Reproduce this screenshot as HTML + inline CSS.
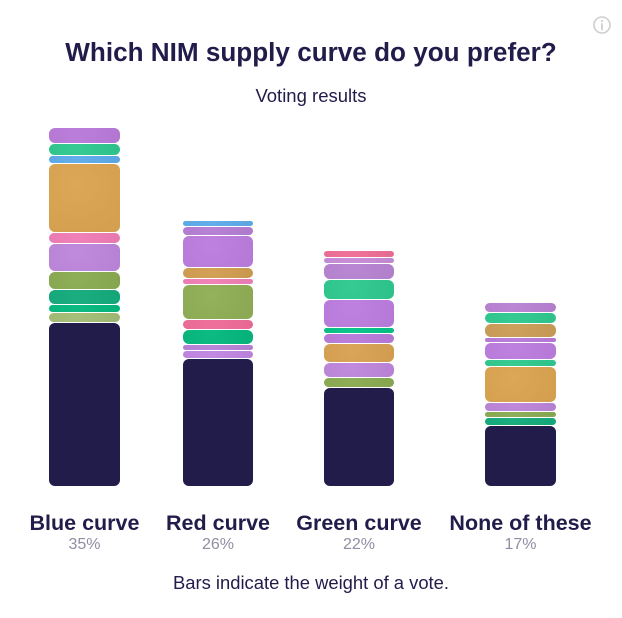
<!DOCTYPE html>
<html lang="en">
<head>
<meta charset="utf-8">
<title>Which NIM supply curve do you prefer?</title>
<style>
  html, body { margin: 0; padding: 0; background: #fff; }
  #chart-card { position: relative; width: 622px; height: 618px; overflow: hidden; background: #fff; color: #211c4a; font-family: "Liberation Sans", sans-serif; }
  .centered { position: absolute; left: 0; width: 622px; text-align: center; white-space: nowrap; }
  #chart-title { top: 36px; font-size: 26.1px; line-height: 32px; font-weight: 700; }
  #chart-subtitle { top: 86px; font-size: 18.5px; line-height: 20px; }
  #chart-footnote { top: 573px; font-size: 18.4px; line-height: 20px; }
  #columns { position: absolute; left: 30px; top: 0; display: grid; grid-template-columns: 109px 104px 124px 145px; column-gap: 27px; }
  .column { position: relative; height: 600px; }
  .stack { position: absolute; left: 50%; margin-left: -35.25px; width: 70.5px; bottom: 114px; display: flex; flex-direction: column; gap: 1px; }
  .segment { width: 100%; background-image: radial-gradient(circle at 40% 30%, rgba(255,255,255,.03), rgba(0,0,0,.04)); }
  .segment:last-child { background-image: none; }
  .option-label { position: absolute; left: -10px; right: -10px; top: 511px; text-align: center; white-space: nowrap; font-size: 21.5px; line-height: 24px; font-weight: 700; }
  .option-percent { position: absolute; left: 0; right: 0; top: 536px; text-align: center; font-size: 16px; line-height: 18px; color: #8f8ea3; }
  #info-icon { position: absolute; left: 592px; top: 15px; width: 20px; height: 20px; }
</style>
</head>
<body>
<div id="chart-card">
  <div id="chart-title" class="centered">Which NIM supply curve do you prefer?</div>
  <div id="chart-subtitle" class="centered">Voting results</div>
  <svg id="info-icon" viewBox="0 0 20 20">
    <circle cx="10" cy="10" r="8" fill="none" stroke="#cfcfcf" stroke-width="1.6"/>
    <line x1="10" y1="9" x2="10" y2="14.5" stroke="#cfcfcf" stroke-width="1.8" stroke-linecap="round"/>
    <circle cx="10" cy="6" r="1.1" fill="#cfcfcf"/>
  </svg>
  <div id="columns"></div>
  <div id="chart-footnote" class="centered">Bars indicate the weight of a vote.</div>
</div>
<script>
const categories = ["Blue curve", "Red curve", "Green curve", "None of these"];
const percents = [35, 26, 22, 17];

// Vote weights, listed from the top of each stack to the bottom.
const blueCurveWeights = [15, 11, 7, 68, 10, 27, 17, 14, 7, 9, 163];
const redCurveWeights = [5, 8, 31, 10, 5, 34, 9, 14, 5, 7, 127];
const greenCurveWeights = [6, 5, 15, 19, 27, 5, 9, 18, 14, 9, 98];
const noneOfTheseWeights = [9, 10, 13, 4, 16, 6, 35, 8, 5, 7, 60];

const blueCurveColors = ["#b97bda", "#2fc98f", "#5dabea", "#dba552", "#f07db6", "#be86dc", "#8aab52", "#14ab7c", "#05b87e", "#a3bd76", "#211c4a"];
const redCurveColors = ["#5dabea", "#b57ed4", "#bc7ddf", "#d29d51", "#f07fb5", "#90ae55", "#ef6c98", "#05b87e", "#b982d8", "#c086e2", "#211c4a"];
const greenCurveColors = ["#ee6e96", "#c78bd8", "#b883d2", "#2fc98f", "#bc7ddf", "#05c488", "#b97bda", "#d9a253", "#be86dc", "#8aab52", "#211c4a"];
const noneOfTheseColors = ["#b982d2", "#2fc98f", "#cc9d57", "#b97bda", "#bc7ddf", "#2fc98f", "#dba552", "#bd85d9", "#8aab52", "#14ab7c", "#211c4a"];

const allWeights = [blueCurveWeights, redCurveWeights, greenCurveWeights, noneOfTheseWeights];
const allColors = [blueCurveColors, redCurveColors, greenCurveColors, noneOfTheseColors];

function heightScale(weight) {
  return weight * 1;
}

const columnsEl = document.getElementById('columns');
categories.forEach(function (category, i) {
  const column = document.createElement('div');
  column.className = 'column';
  
  

  const stack = document.createElement('div');
  stack.className = 'stack';
  
  

  allWeights[i].forEach(function (weight, j) {
    const segment = document.createElement('div');
    const h = heightScale(weight);
    segment.className = 'segment';
    
    
    segment.style.height = h + 'px';
    segment.style.backgroundColor = allColors[i][j];
    segment.style.borderRadius = Math.min(6, h / 2) + 'px';
    stack.appendChild(segment);
  });

  const label = document.createElement('div');
  label.className = 'option-label';
  
  
  label.textContent = category;

  const percent = document.createElement('div');
  percent.className = 'option-percent';
  
  
  percent.textContent = percents[i] + '%';

  column.appendChild(stack);
  column.appendChild(label);
  column.appendChild(percent);
  columnsEl.appendChild(column);
});
</script>
</body>
</html>
